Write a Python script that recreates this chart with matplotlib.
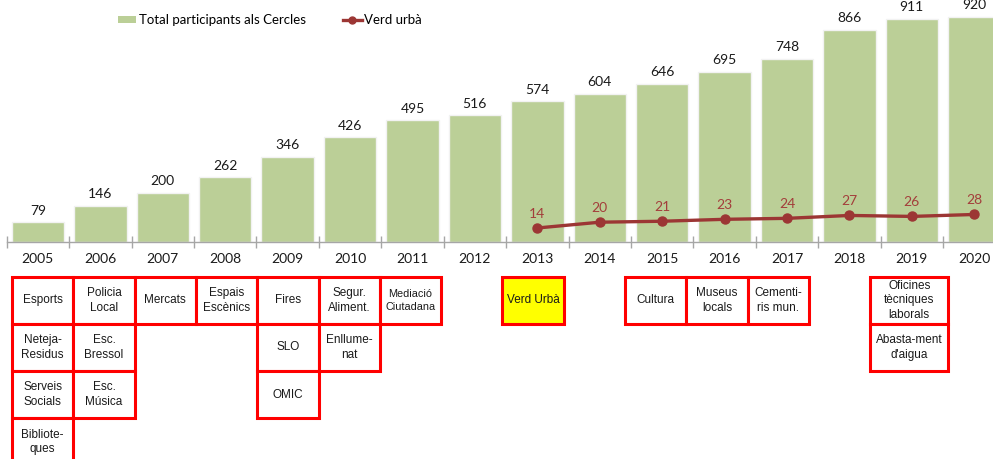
"""
Participants als Cercles de comparació intermunicipal, 2005-2020,
amb la sèrie de Verd urbà i els serveis que s'incorporen cada any.
"""

import matplotlib

matplotlib.use("Agg")
import matplotlib.pyplot as plt
from matplotlib.lines import Line2D
from matplotlib.patches import Patch, Rectangle

# Data
years = [2005, 2006, 2007, 2008, 2009, 2010, 2011, 2012,
         2013, 2014, 2015, 2016, 2017, 2018, 2019, 2020]
total_participants = [79, 146, 200, 262, 346, 426, 495, 516,
                      574, 604, 646, 695, 748, 866, 911, 920]
verd_years = [2013, 2014, 2015, 2016, 2017, 2018, 2019, 2020]
verd_urba = [14, 20, 21, 23, 24, 27, 26, 28]

# Serveis nous per any (columna sota cada any)
new_services = {
    2005: ["Esports", "Neteja-\nResidus", "Serveis\nSocials", "Bibliote-\nques"],
    2006: ["Policia\nLocal", "Esc.\nBressol", "Esc.\nMúsica"],
    2007: ["Mercats"],
    2008: ["Espais\nEscènics"],
    2009: ["Fires", "SLO", "OMIC"],
    2010: ["Segur.\nAliment.", "Enllume-\nnat"],
    2011: ["Mediació\nCiutadana"],
    2013: ["Verd Urbà"],
    2015: ["Cultura"],
    2016: ["Museus\nlocals"],
    2017: ["Cementi-\nris mun."],
    2019: ["Oficines\ntècniques\nlaborals", "Abasta-ment\nd'aigua"],
}
highlight_service = "Verd Urbà"

BAR_COLOR = "#bbcf97"
LINE_COLOR = "#9c3634"
LABEL_COLOR = "#a33e3b"
BOX_COLOR = "#ff0000"
CHART_FONT = ["Lato", "DejaVu Sans"]
BOX_FONT = ["Liberation Sans", "DejaVu Sans"]

W, H = 993, 459
fig = plt.figure(figsize=(W / 100, H / 100), dpi=100)

# Main axes: baseline at y=241.5 px, top at figure top
base_px = 241.5
ax = fig.add_axes([6.7 / W, (H - base_px) / H, (W - 6.7) / W, base_px / H])
x = list(range(len(years)))

ax.bar(x, total_participants, width=0.84, color=BAR_COLOR,
       edgecolor="#f2f2f2", linewidth=1.0, zorder=2)
for xi, v in zip(x, total_participants):
    ax.annotate(f"{v}", (xi, v), xytext=(0, 4), textcoords="offset points",
                ha="center", va="bottom", fontsize=10, family=CHART_FONT,
                color="#1a1a1a", annotation_clip=False)

ax.set_xlim(-0.5, 15.3)
ax.set_ylim(0, base_px / 0.2445)
ax.set_xticks(x)
ax.set_xticklabels([str(y) for y in years], fontsize=10, family=CHART_FONT)
ax.set_xticks([i - 0.5 for i in x], minor=True)
ax.tick_params(axis="x", which="major", length=0, pad=8, colors="#1a1a1a")
ax.tick_params(axis="x", which="minor", direction="inout", length=8,
               width=1, color="#a6a6a6")
ax.set_yticks([])
for side in ["top", "right", "left"]:
    ax.spines[side].set_visible(False)
ax.spines["bottom"].set_color("#a6a6a6")
ax.spines["bottom"].set_linewidth(1)

# Secondary axis for Verd urbà
ax2 = ax.twinx()
vx = [years.index(y) for y in verd_years]
ax2.plot(vx, verd_urba, color=LINE_COLOR, linewidth=2.4, marker="o",
         markersize=6.5, zorder=3)
for xi, v in zip(vx, verd_urba):
    ax2.annotate(f"{v}", (xi, v), xytext=(0, 6), textcoords="offset points",
                 ha="center", va="bottom", fontsize=10, family=CHART_FONT,
                 color=LABEL_COLOR, annotation_clip=False)
ax2.set_ylim(0, base_px / 0.965)
ax2.set_yticks([])
for side in ["top", "right", "left", "bottom"]:
    ax2.spines[side].set_visible(False)

# Legend
handles = [
    Patch(facecolor=BAR_COLOR, edgecolor="none"),
    Line2D([], [], color=LINE_COLOR, linewidth=2.4, marker="o", markersize=5),
]
fig.legend(handles, ["Total participants als Cercles", "Verd urbà"],
           loc="upper left", bbox_to_anchor=(118 / W, 1 - 14 / H), ncol=2,
           frameon=False, prop={"family": CHART_FONT, "size": 9.5},
           borderpad=0, borderaxespad=0, handlelength=1.4, handleheight=0.5,
           handletextpad=0.2, columnspacing=2.8)

# Grid of service boxes below the axis (pixel coordinates)
ov = fig.add_axes([0, 0, 1, 1], zorder=5)
ov.set_xlim(0, W)
ov.set_ylim(H, 0)
ov.axis("off")

box_left0, box_pitch, box_w = 12.0, 61.3, 61.3
row_top0, row_h = 276.7, 47.2
wide_cols = {2019: 78.0}

for year, services in new_services.items():
    col = years.index(year)
    width = wide_cols.get(year, box_w)
    left = box_left0 + box_pitch * col
    for row, name in enumerate(services):
        top = row_top0 + row_h * row
        face = "#ffff00" if name == highlight_service else "white"
        ov.add_patch(Rectangle((left, top), width, row_h, facecolor=face,
                               edgecolor=BOX_COLOR, linewidth=2.2, zorder=2))
        size = 7.8 if name.startswith("Mediació") else 8.5
        ov.text(left + width / 2, top + row_h / 2, name, ha="center",
                va="center", fontsize=size, family=BOX_FONT, color="#1a1a1a",
                linespacing=1.3, zorder=3)

fig.savefig("out.png", dpi=100)
plt.close(fig)
